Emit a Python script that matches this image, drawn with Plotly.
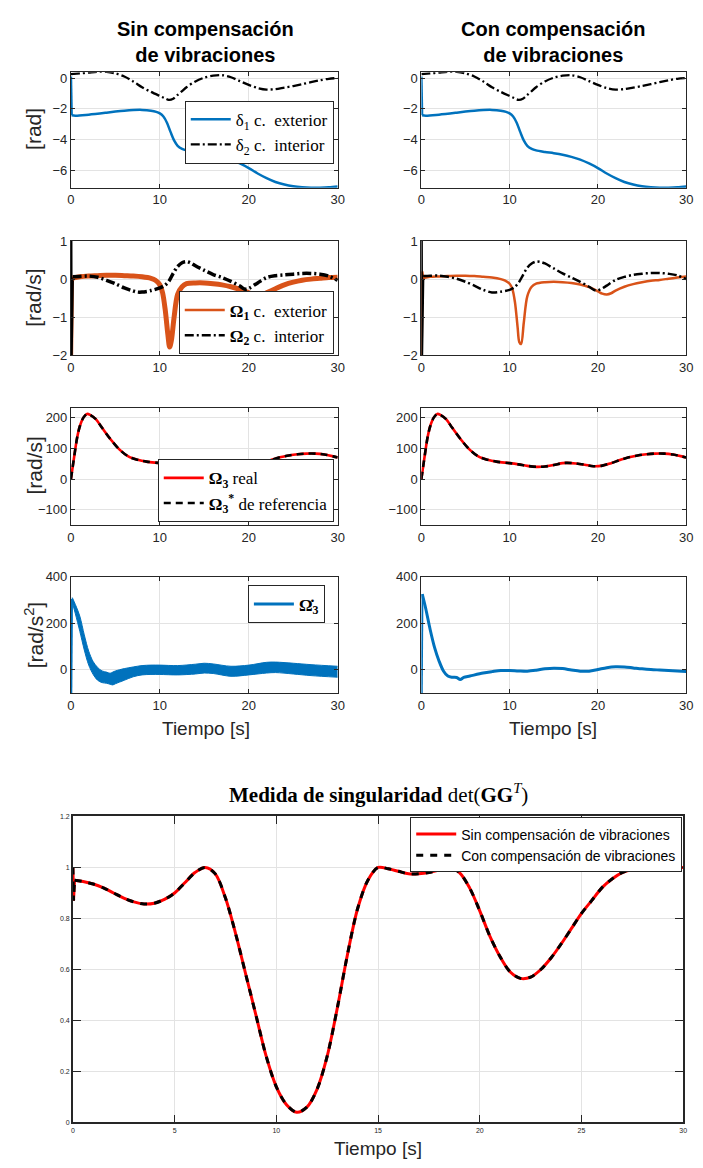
import plotly.graph_objects as go

W, H = 703, 1168

# ---------------- data ----------------
# delta angles (rad)
t_d1 = [0.08, 0.5, 2, 4, 5, 6, 7, 8, 9, 9.6, 10, 10.4, 10.8, 11.2, 11.6, 12, 12.5, 13, 14, 15,
        16, 17, 18, 19, 20, 21, 22, 23, 24, 25, 26, 27, 28, 29, 30]
d1 = [-2.42, -2.45, -2.38, -2.25, -2.18, -2.12, -2.08, -2.07, -2.12, -2.2, -2.3, -2.5, -2.9, -3.5,
      -4.05, -4.4, -4.6, -4.7, -4.8, -4.88, -4.98, -5.12, -5.3, -5.55, -5.85, -6.2, -6.5, -6.75,
      -6.92, -7.03, -7.09, -7.12, -7.12, -7.1, -7.05]
t_d1_jump = [0.0, 0.08]
d1_jump = [0.1, -2.42]

t_d2 = [0, 1, 2, 3, 4, 5, 6, 7, 8, 9, 10, 10.5, 11, 11.5, 12, 12.5, 13, 14, 15, 16, 17, 18, 19,
        20, 21, 22, 23, 24, 25, 26, 27, 28, 29, 30]
d2 = [0.25, 0.3, 0.35, 0.4, 0.4, 0.3, 0.1, -0.22, -0.6, -0.9, -1.17, -1.3, -1.42, -1.35, -1.1,
      -0.85, -0.6, -0.22, 0.02, 0.15, 0.18, 0.05, -0.2, -0.45, -0.65, -0.75, -0.72, -0.62, -0.52,
      -0.4, -0.27, -0.15, -0.05, 0.0]

# gimbal rates (rad/s)
t_w1 = [0.2, 1, 2, 3, 4, 5, 6, 7, 8, 9, 9.5, 10, 10.3, 10.6, 10.9, 11.1, 11.3, 11.6, 12, 12.5, 13,
        14, 15, 16, 17, 18, 19, 20, 20.5, 21, 21.5, 22, 23, 24, 25, 26, 27, 28, 29, 30]
w1_sin = [0.03, 0.06, 0.08, 0.09, 0.1, 0.1, 0.09, 0.08, 0.06, 0.02, -0.03, -0.15, -0.35, -0.8,
          -1.45, -1.78, -1.6, -1.0, -0.4, -0.2, -0.12, -0.1, -0.1, -0.12, -0.15, -0.2, -0.27,
          -0.36, -0.42, -0.44, -0.42, -0.36, -0.25, -0.15, -0.08, -0.03, 0.0, 0.02, 0.04, 0.05]
w1_con = [0.03, 0.06, 0.07, 0.08, 0.09, 0.09, 0.08, 0.06, 0.04, 0.0, -0.04, -0.12, -0.25, -0.6,
          -1.25, -1.65, -1.7, -1.15, -0.45, -0.2, -0.12, -0.08, -0.07, -0.08, -0.1, -0.14, -0.21,
          -0.32, -0.38, -0.4, -0.37, -0.3, -0.2, -0.13, -0.08, -0.04, -0.02, 0.01, 0.04, 0.07]
t_w1_jump = [0.03, 0.1, 0.2]
w1_jump_sin = [0.0, -2.2, 0.03]
w1_jump_con = [-2.2, 0.2, 0.03]

t_w2_sin = [0.2, 1, 2, 3, 4, 5, 6, 7, 7.5, 8, 9, 10, 10.5, 11, 11.5, 12, 12.5, 13, 13.5, 14, 15,
            16, 17, 18, 19, 19.5, 20, 21, 22, 23, 24, 25, 26, 27, 28, 29, 30]
w2_sin = [0.06, 0.07, 0.08, 0.05, -0.03, -0.12, -0.23, -0.31, -0.34, -0.34, -0.3, -0.23, -0.17,
          -0.06, 0.15, 0.33, 0.43, 0.46, 0.42, 0.35, 0.23, 0.12, 0.04, -0.06, -0.18, -0.26, -0.24,
          -0.1, 0.04, 0.09, 0.11, 0.13, 0.15, 0.15, 0.13, 0.08, -0.03]
t_w2_con = [0.2, 1, 2, 3, 4, 5, 6, 7, 8, 9, 10, 10.5, 11, 11.5, 12, 12.5, 13, 13.5, 14, 15, 16,
            17, 18, 19, 19.8, 20.5, 21, 22, 23, 24, 25, 26, 27, 28, 29, 30]
w2_con = [0.08, 0.09, 0.09, 0.06, 0.01, -0.07, -0.17, -0.28, -0.35, -0.33, -0.28, -0.22, -0.1,
          0.1, 0.3, 0.41, 0.46, 0.45, 0.41, 0.28, 0.15, 0.04, -0.07, -0.2, -0.3, -0.24, -0.17,
          -0.02, 0.06, 0.11, 0.14, 0.16, 0.16, 0.14, 0.1, 0.0]
t_w2_jump = [0.03, 0.06, 0.2]
w2_jump = [1.05, -2.1, 0.07]

# wheel speed (rad/s)
t_w3 = [0, 0.3, 0.7, 1, 1.4, 1.8, 2.2, 2.8, 3.5, 4.5, 5.5, 6.5, 7.5, 8.5, 10, 11, 12, 13, 14, 15,
        16, 16.5, 17.5, 18.5, 19.5, 20.5, 21.5, 22.5, 23.5, 24.5, 25.5, 26.5, 27.5, 28.5, 29.5, 30]
w3 = [0, 60, 135, 172, 200, 212, 208, 195, 167, 128, 95, 73, 63, 57, 52, 48, 43, 40, 41, 46, 52,
      53, 51, 47, 42, 44, 52, 62, 71, 77, 81, 83, 83, 80, 74, 70]

# wheel acceleration (rad/s^2)
t_dw3_band = [0.15, 0.5, 1, 1.5, 2, 2.5, 3, 3.5, 4, 4.4, 4.7, 5, 6, 7, 8, 9, 10, 12, 14, 15, 16,
              18, 20, 22, 23, 25, 27, 30]
dw3_sin_hi = [310, 280, 230, 150, 80, 35, 10, -5, -10, -15, -10, -5, 5, 12, 18, 20, 20, 18, 24,
              28, 25, 15, 20, 32, 33, 28, 22, 15]
dw3_sin_lo = [290, 240, 165, 85, 20, -20, -45, -55, -58, -62, -65, -60, -45, -30, -22, -20, -20,
              -22, -18, -14, -16, -28, -22, -14, -12, -18, -25, -32]
t_dw3 = [0.1, 0.5, 1, 1.5, 2, 2.5, 3, 3.5, 4, 4.4, 4.8, 5.5, 7, 8, 9, 10, 11, 12, 13, 14, 15, 16,
         17, 18, 19, 20, 21, 22, 23, 24, 25, 26, 27, 28, 29, 30]
dw3_con = [325, 262, 172, 95, 38, -5, -27, -32, -33, -42, -33, -27, -14, -8, -3, -3, -5, -6, -2,
           4, 7, 5, -1, -6, -6, 1, 9, 13, 12, 8, 4, 1, -1, -3, -5, -7]
t_dw3_jump = [0.04, 0.12]
dw3_jump_sin = [-110, 305]
dw3_jump_con = [-110, 325]

# singularity measure det(GG^T)
t_det_jump = [0.0, 0.03, 0.08]
det_jump = [1.0, 0.87, 0.95]
t_det = [0.08, 0.5, 1, 1.5, 2, 2.5, 3, 3.5, 4, 4.5, 5, 5.5, 6, 6.5, 7, 7.5, 8, 8.5, 9, 9.5, 10,
         10.5, 11, 11.5, 12, 12.5, 13, 13.5, 14, 14.5, 15, 15.5, 16, 16.5, 17, 17.5, 18, 18.5, 19,
         19.5, 20, 20.5, 21, 21.5, 22, 22.5, 23, 23.5, 24, 24.5, 25, 25.5, 26, 26.5, 27, 27.5, 28,
         28.5, 29, 29.5, 30]
det_sin = [0.95, 0.945, 0.935, 0.92, 0.9, 0.88, 0.865, 0.857, 0.86, 0.875, 0.9, 0.94, 0.98, 1.0,
           0.975, 0.88, 0.74, 0.58, 0.42, 0.26, 0.14, 0.07, 0.04, 0.06, 0.13, 0.26, 0.45, 0.66,
           0.84, 0.95, 1.0, 0.995, 0.985, 0.975, 0.975, 0.98, 0.99, 1.0, 0.98, 0.92, 0.83, 0.73,
           0.65, 0.59, 0.565, 0.57, 0.6, 0.645, 0.7, 0.76, 0.82, 0.87, 0.92, 0.955, 0.98, 0.992,
           0.998, 1.0, 1.0, 1.0, 1.0]
det_con = list(det_sin)

# ---------------- styling ----------------
BLUE, ORANGE, RED, BLACK = "#0072BD", "#D95319", "#FF0000", "#000000"
DASHDOT = "9px,3px,2px,3px"
SANS = "Liberation Sans, Arial, Helvetica, sans-serif"
SERIF = "Liberation Serif, DejaVu Serif, serif"
AXC = "#262626"


def px(x):
    return x / W


def py(y):
    return 1 - y / H


fig = go.Figure()


def add(x, y, ax, color, width, dash="solid", name=None, legend=None, shape="spline", **kw):
    fig.add_trace(go.Scatter(
        x=x, y=y, mode="lines", xaxis="x" + ax, yaxis="y" + ax,
        line=dict(color=color, width=width, dash=dash, shape=shape, smoothing=0.9),
        name=name, showlegend=name is not None, legend=legend or "legend",
        hoverinfo="skip", **kw))


SP = "&nbsp;"

# row 1: delta
for ax, leg in (("1", True), ("2", False)):
    add(t_d1_jump, d1_jump, ax, BLUE, 2.5, shape="linear")
    add(t_d1, d1, ax, BLUE, 2.5,
        name=f"δ<sub>1</sub> c.{SP} exterior" if leg else None, legend="legend")
    add(t_d2, d2, ax, BLACK, 2.3, dash=DASHDOT,
        name=f"δ<sub>2</sub> c.{SP} interior" if leg else None, legend="legend")

# row 2: gimbal rates (left: noisy, drawn as thick bands)
add(t_w1_jump, w1_jump_sin, "3", ORANGE, 2.5, shape="linear")
add(t_w2_jump, w2_jump, "3", BLACK, 2.5, shape="linear")
add(t_w1, w1_sin, "3", ORANGE, 5)
add(t_w2_sin, w2_sin, "3", BLACK, 3.5, dash=DASHDOT)
add(t_w1_jump, w1_jump_con, "4", ORANGE, 2.5, shape="linear")
add(t_w2_jump, w2_jump, "4", BLACK, 2.5, shape="linear")
add(t_w1, w1_con, "4", ORANGE, 2.5, name=f"<b>Ω<sub>1</sub></b> c.{SP} exterior",
    legend="legend2")
add(t_w2_con, w2_con, "4", BLACK, 2.5, dash=DASHDOT,
    name=f"<b>Ω<sub>2</sub></b> c.{SP} interior", legend="legend2")

# row 3: wheel speed
for ax, leg in (("5", True), ("6", False)):
    add(t_w3, w3, ax, RED, 2.6, name="<b>Ω<sub>3</sub></b> real" if leg else None,
        legend="legend3")
    add(t_w3, w3, ax, BLACK, 2.6, dash="7px,5px",
        name="<b>Ω<sub>3</sub><sup>*</sup></b> de referencia" if leg else None,
        legend="legend3")

# row 4: wheel acceleration (left: vibration envelope)
add(t_dw3_jump, dw3_jump_sin, "7", BLUE, 2, shape="linear")
add(t_dw3_band, dw3_sin_lo, "7", BLUE, 1)
add(t_dw3_band, dw3_sin_hi, "7", BLUE, 1, fill="tonexty", fillcolor=BLUE)
add(t_dw3_jump, dw3_jump_con, "8", BLUE, 2, shape="linear")
add(t_dw3, dw3_con, "8", BLUE, 3, name="<b>Ω̇<sub>3</sub></b>", legend="legend4")

# bottom: singularity measure
add(t_det_jump, det_jump, "9", RED, 3, shape="linear")
add(t_det_jump, det_jump, "9", BLACK, 3, dash="7px,7px", shape="linear")
add(t_det, det_sin, "9", RED, 3, name="Sin compensación de vibraciones", legend="legend5")
add(t_det, det_con, "9", BLACK, 3, dash="7px,7px", name="Con compensación de vibraciones",
    legend="legend5")

# ---------------- axes ----------------
cols = {"L": (68, 339), "R": (424, 693)}
rows = [(66, 183, [-7.12, 0.38], [0, -2, -4, -6]),
        (237, 353, [-2, 1], [1, 0, -1, -2]),
        (406, 525, [-150, 232], [200, 100, 0, -100]),
        (577, 695, [-100, 400], [400, 200, 0])]


def axis_style(size=13):
    return dict(showline=True, linecolor=AXC, linewidth=1, mirror="ticks", ticks="inside",
                ticklen=4, tickcolor=AXC, showgrid=True, gridcolor="#E3E3E3", gridwidth=1,
                zeroline=False, tickfont=dict(family=SANS, size=size, color=AXC))


layout = {}
k = 1
for (top, bot, yr, yt) in rows:
    for c in ("L", "R"):
        x0, x1 = cols[c]
        layout["xaxis" + str(k)] = dict(domain=[px(x0), px(x1)], range=[0, 30],
                                        tickvals=[0, 10, 20, 30], anchor="y" + str(k),
                                        **axis_style())
        layout["yaxis" + str(k)] = dict(domain=[py(bot), py(top)], range=yr, tickvals=yt,
                                        anchor="x" + str(k), **axis_style())
        k += 1
layout["xaxis9"] = dict(domain=[px(70), px(690)], range=[0, 30],
                        tickvals=[0, 5, 10, 15, 20, 25, 30], anchor="y9", **axis_style(7))
layout["yaxis9"] = dict(domain=[py(1130), py(820)], range=[0, 1.2],
                        tickvals=[0, 0.2, 0.4, 0.6, 0.8, 1, 1.2],
                        ticktext=["0", "0.2", "0.4", "0.6", "0.8", "1", "1.2"],
                        anchor="x9", **axis_style(7))
layout["xaxis9"]["ticklen"] = 8
layout["yaxis9"]["ticklen"] = 8
layout["xaxis9"]["linewidth"] = 1.5
layout["yaxis9"]["linewidth"] = 1.5


def legend(xr, yv, yanchor, font):
    return dict(x=px(xr), y=py(yv), xanchor="right", yanchor=yanchor, xref="paper",
                yref="paper", bgcolor="white", bordercolor=AXC, borderwidth=1, font=font,
                itemwidth=40, tracegroupgap=0, traceorder="normal")


serif_font = dict(family=SERIF, size=17, color="black")
layout["legend"] = legend(335, 95, "top", serif_font)
layout["legend2"] = legend(335, 352, "bottom", serif_font)
layout["legend3"] = legend(335, 522, "bottom", serif_font)
layout["legend4"] = legend(326, 586, "top", serif_font)
layout["legend5"] = legend(689, 821, "top", dict(family=SANS, size=14, color="black"))

ann = []


def text(x, y, s, size, family=SANS, angle=0, color="black"):
    ann.append(dict(x=px(x), y=py(y), xref="paper", yref="paper", text=s, showarrow=False,
                    textangle=angle, font=dict(family=family, size=size, color=color),
                    xanchor="center", yanchor="middle"))


text(205, 35, "<b>Sin compensación<br>de vibraciones</b>", 20)
text(558, 35, "<b>Con compensación<br>de vibraciones</b>", 20)
text(30, 124, "[rad]", 21, angle=-90, color=AXC)
text(30, 295, "[rad/s]", 21, angle=-90, color=AXC)
text(30, 465, "[rad/s]", 21, angle=-90, color=AXC)
text(30, 636, "[rad/s<sup>2</sup>]", 21, angle=-90, color=AXC)
text(205, 731, "Tiempo [s]", 19, color=AXC)
text(558, 731, "Tiempo [s]", 19, color=AXC)
text(380, 1156, "Tiempo [s]", 19, color=AXC)
text(380, 797, "<b>Medida de singularidad</b> det(<b>GG</b><sup><i>T</i></sup>)", 21,
     family=SERIF)

fig.update_layout(width=W, height=H, margin=dict(l=0, r=0, t=0, b=0),
                  paper_bgcolor="white", plot_bgcolor="white", annotations=ann, **layout)

fig.write_html("out.html")
